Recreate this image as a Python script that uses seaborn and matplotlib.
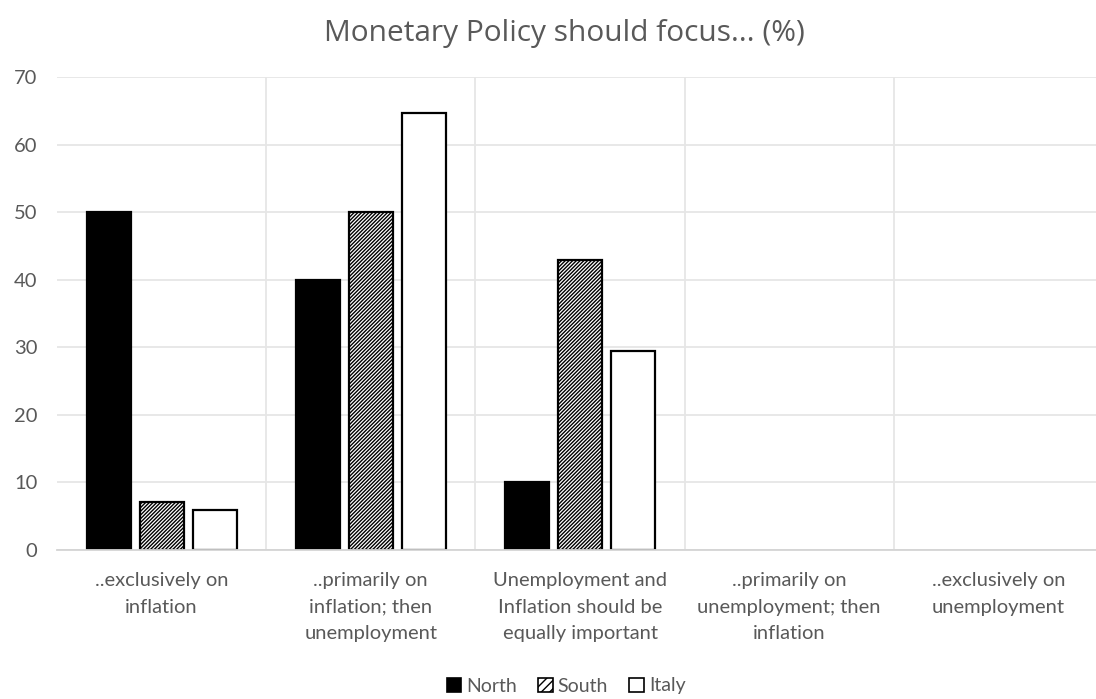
import matplotlib
matplotlib.use("Agg")
import matplotlib.pyplot as plt
from matplotlib.patches import Patch
from matplotlib.ticker import FixedLocator
import pandas as pd
import seaborn as sns

# Survey answers: where should monetary policy focus (%)
categories = [
    "..exclusively on\ninflation",
    "..primarily on\ninflation; then\nunemployment",
    "Unemployment and\nInflation should be\nequally important",
    "..primarily on\nunemployment; then\ninflation",
    "..exclusively on\nunemployment",
]
regions = ["North", "South", "Italy"]
north = [50.0, 40.0, 10.0, 0.0, 0.0]
south = [7.1, 50.0, 42.9, 0.0, 0.0]
italy = [5.9, 64.7, 29.4, 0.0, 0.0]
y_ticks = [0, 10, 20, 30, 40, 50, 60, 70]

df = pd.DataFrame({
    "answer": categories * 3,
    "region": [r for r in regions for _ in categories],
    "share": north + south + italy,
})

sns.set_theme(style="white")
plt.rcParams["font.family"] = ["Lato", "DejaVu Sans"]
plt.rcParams["hatch.linewidth"] = 1.0
plt.rcParams["hatch.color"] = "black"

text_grey = "#595959"
grid_grey = "#e6e6e6"

fig = plt.figure(figsize=(10.96, 6.99), dpi=100)
ax = fig.add_axes([57 / 1096, 1 - 550 / 699, 1 - 57 / 1096, (550 - 77) / 699])

sns.barplot(
    data=df, x="answer", y="share", hue="region",
    order=categories, hue_order=regions,
    palette=["black", "white", "white"],
    width=0.76, gap=0.17, edgecolor="black", linewidth=1.6,
    legend=False, ax=ax,
)

# South is drawn as white with dense diagonal hatching
for bar in ax.containers[1]:
    bar.set_hatch("/////////")
# Empty answers draw nothing
for cont in ax.containers:
    for bar in cont:
        if bar.get_height() == 0:
            bar.set_visible(False)

ax.set_ylim(0, 70)
ax.set_xlim(-0.5, 4.5 - 7 / 209)
ax.yaxis.set_major_locator(FixedLocator(y_ticks))
ax.xaxis.set_minor_locator(FixedLocator([i + 0.5 for i in range(len(categories) - 1)]))
ax.grid(True, axis="y", which="major", color=grid_grey, linewidth=1.3)
ax.grid(True, axis="x", which="minor", color=grid_grey, linewidth=1.3)
ax.grid(False, axis="x", which="major")
ax.set_axisbelow(True)

for side in ["top", "right", "left"]:
    ax.spines[side].set_visible(False)
ax.spines["bottom"].set_color("#d4d4d4")
ax.spines["bottom"].set_linewidth(1.3)

ax.set_xlabel("")
ax.set_ylabel("")
ax.tick_params(axis="both", which="both", length=0, colors=text_grey, labelsize=14.5)
ax.tick_params(axis="x", pad=16)
ax.tick_params(axis="y", pad=14)
for lbl in ax.get_xticklabels():
    lbl.set_linespacing(1.68)

fig.text(564 / 1096, 1 - 33 / 699, "Monetary Policy should focus... (%)",
         ha="center", va="center", fontsize=21.5, color=text_grey,
         family=["Open Sans", "DejaVu Sans"])

handles = [
    Patch(facecolor="black", edgecolor="black", linewidth=1.2),
    Patch(facecolor="white", edgecolor="black", linewidth=1.2, hatch="////"),
    Patch(facecolor="white", edgecolor="black", linewidth=1.2),
]
fig.legend(handles, regions, loc="center", bbox_to_anchor=(566 / 1096, 1 - 686 / 699),
           ncol=3, frameon=False, fontsize=14, labelcolor=text_grey,
           handlelength=0.75, handleheight=0.75, handletextpad=0.25,
           columnspacing=1.1)

fig.savefig("out.png", dpi=100)
